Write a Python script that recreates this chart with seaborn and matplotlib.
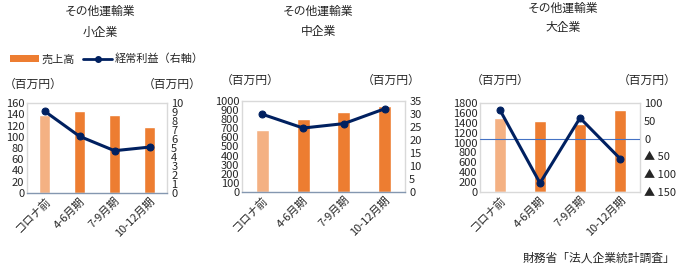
import numpy as np
import pandas as pd
import matplotlib
matplotlib.use("Agg")
import matplotlib.pyplot as plt
import seaborn as sns
from matplotlib.ticker import FixedLocator, FuncFormatter
from matplotlib.patches import Patch
from matplotlib.lines import Line2D

sns.set_style("white")
plt.rcParams['font.family'] = ['Noto Sans CJK JP', 'DejaVu Sans']

categories = ["コロナ前", "4-6月期", "7-9月期", "10-12月期"]
industry = "その他運輸業"
panel_names = ["小企業", "中企業", "大企業"]

sales_small = [139, 145, 138, 117]
profit_small = [9.1, 6.3, 4.7, 5.1]
sales_mid = [678, 798, 883, 941]
profit_mid = [29.9, 24.6, 26.3, 32.0]
sales_large = [1497, 1429, 1369, 1658]
profit_large = [80, -125, 58, -56]

left_ticks = [list(range(0, 161, 20)), list(range(0, 1001, 100)), list(range(0, 1801, 200))]
right_ticks = [list(range(0, 11, 1)), list(range(0, 36, 5)), list(range(-150, 101, 50))]

unit_label = "（百万円）"
legend_sales = "売上高"
legend_profit = "経常利益（右軸）"
source = "財務省「法人企業統計調査」"

bar_light = "#F4B183"
bar_dark = "#ED7D31"
line_col = "#002060"
frame_col = "#D9D9D9"
axis_col = "#8497B0"

W, H = 683, 267
fig = plt.figure(figsize=(W / 100, H / 100), dpi=100)

boxes = [(27, 103, 167, 193), (242, 101, 405, 192), (480, 103, 640, 192)]
title_x = [100, 318, 563]
title_y = [(11, 32), (11, 31), (8, 28)]
unit_pos = [((33, 84), (172, 84)), ((250, 80), (391, 80)), ((500, 80), (647, 80))]

sales_all = [sales_small, sales_mid, sales_large]
profit_all = [profit_small, profit_mid, profit_large]


def fmt_right(v, pos):
    v = int(round(v))
    if v < 0:
        return "▲ " + str(-v)
    return str(v)


for i in range(3):
    x0, y0, x1, y1 = boxes[i]
    ax = fig.add_axes([x0 / W, 1 - y1 / H, (x1 - x0) / W, (y1 - y0) / H])
    df = pd.DataFrame({"cat": categories, "sales": sales_all[i], "profit": profit_all[i]})
    palette = [bar_light] + [bar_dark] * (len(categories) - 1)
    sns.barplot(data=df, x="cat", y="sales", hue="cat", palette=palette,
                width=0.32, legend=False, ax=ax, saturation=1)
    ax.set_xlim(-0.5, len(categories) - 0.5)
    ax.set_ylim(left_ticks[i][0], left_ticks[i][-1])
    ax.yaxis.set_major_locator(FixedLocator(left_ticks[i]))
    ax.set_xlabel("")
    ax.set_ylabel("")
    ax.tick_params(axis="both", length=0, labelsize=8, pad=2)
    ax.set_xticks(range(len(categories)))
    ax.set_xticklabels(categories, rotation=45, ha="right", rotation_mode="anchor", fontsize=8)
    for s in ax.spines.values():
        s.set_color(frame_col)
        s.set_linewidth(1.0)
    if i < 2:
        ax.spines["bottom"].set_color(axis_col)

    ax2 = ax.twinx()
    df["pos"] = np.arange(len(categories))
    sns.lineplot(data=df, x="pos", y="profit", ax=ax2, color=line_col, linewidth=2.2,
                 marker="o", markersize=5, markeredgecolor=line_col)
    ax2.set_ylim(right_ticks[i][0], right_ticks[i][-1])
    ax2.yaxis.set_major_locator(FixedLocator(right_ticks[i]))
    ax2.yaxis.set_major_formatter(FuncFormatter(fmt_right))
    ax2.set_ylabel("")
    ax2.set_xlabel("")
    ax2.tick_params(axis="y", length=0, labelsize=8, pad=3)
    for s in ax2.spines.values():
        s.set_visible(False)
    if i == 2:
        ax2.axhline(0, color="#4472C4", linewidth=0.8, zorder=1)

    fig.text(title_x[i] / W, 1 - title_y[i][0] / H, industry, ha="center", va="center", fontsize=8.5)
    fig.text(title_x[i] / W, 1 - title_y[i][1] / H, panel_names[i], ha="center", va="center", fontsize=8.5)
    for (ux, uy) in unit_pos[i]:
        fig.text(ux / W, 1 - uy / H, unit_label, ha="center", va="center", fontsize=8.5)

handles = [Patch(facecolor=bar_dark, edgecolor="none"),
           Line2D([0], [0], color=line_col, lw=2, marker="o", markersize=4)]
fig.legend(handles, [legend_sales, legend_profit], loc="center left",
           bbox_to_anchor=(10 / W, 1 - 59 / H), ncol=2, frameon=False, fontsize=8,
           handlelength=2.6, handleheight=0.5, columnspacing=0.8, handletextpad=0.2,
           borderaxespad=0, borderpad=0)

fig.text(675 / W, 1 - 258 / H, source, ha="right", va="center", fontsize=8.5)

fig.savefig("out.png", dpi=100)
